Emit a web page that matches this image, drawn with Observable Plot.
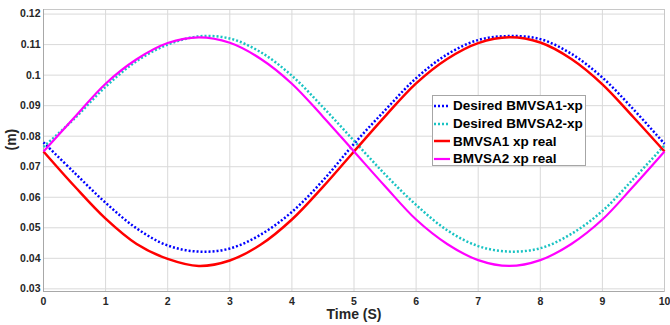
<!DOCTYPE html>
<html>
<head>
<meta charset="utf-8">
<script src="https://cdn.jsdelivr.net/npm/d3@7"></script>
<script src="https://cdn.jsdelivr.net/npm/@observablehq/plot@0.6"></script>
<style>
  html, body { margin: 0; padding: 0; background: #fff; }
  #wrap { position: relative; width: 670px; height: 325px; font-family: "Liberation Sans", Arial, sans-serif; }
  #legend { position: absolute; left: 432px; top: 95px; width: 154px; height: 71px; background: #fff; border: 1px solid #a6a6a6; box-sizing: border-box; padding-top: 1px; }
  .row { display: flex; align-items: center; height: 17.7px; font-weight: bold; font-size: 13.5px; color: #000; white-space: nowrap; }
  .row svg { margin-left: 1px; margin-right: 3px; flex: none; }
</style>
</head>
<body>
<div id="wrap"></div>
<script>
// time samples (s)
const time = [0,0.5,1,1.5,2,2.5,3,3.5,4,4.5,5,5.5,6,6.5,7,7.5,8,8.5,9,9.5,10];
// Desired BMVSA1-xp (m)
const desired1 = [0.0780,0.0680,0.0582,0.0498,0.0442,0.0422,0.0432,0.0478,0.0552,0.0655,0.0775,0.0885,0.0990,0.1068,0.1115,0.1128,0.1118,0.1070,0.0992,0.0888,0.0775];
// Desired BMVSA2-xp (m)
const desired2 = [0.0765,0.0858,0.0962,0.1046,0.1100,0.1127,0.1120,0.1075,0.0998,0.0895,0.0785,0.0675,0.0575,0.0492,0.0440,0.0422,0.0433,0.0480,0.0555,0.0660,0.0770];
// BMVSA1 xp real (m)
const real1 = [0.0750,0.0636,0.0530,0.0447,0.0398,0.0375,0.0393,0.0445,0.0527,0.0634,0.0750,0.0865,0.0973,0.1053,0.1105,0.1124,0.1107,0.1053,0.0970,0.0862,0.0750];
// BMVSA2 xp real (m)
const real2 = [0.0750,0.0862,0.0972,0.1052,0.1105,0.1124,0.1106,0.1053,0.0972,0.0864,0.0750,0.0636,0.0527,0.0447,0.0394,0.0375,0.0394,0.0447,0.0527,0.0636,0.0750];

const seriesNames = ["Desired BMVSA1-xp","Desired BMVSA2-xp","BMVSA1 xp real","BMVSA2 xp real"];
const seriesValues = [desired1, desired2, real1, real2];
const seriesColors = ["#0000ff","#19c3c3","#ff0000","#ff00ff"];
const seriesDash = ["2,2","2,2",null,null];
const seriesWidth = [2.5,2.5,2.5,2.2];

const xTicks = [0,1,2,3,4,5,6,7,8,9,10];
const yTicks = [0.03,0.04,0.05,0.06,0.07,0.08,0.09,0.1,0.11,0.12];

const font = "'Liberation Sans', Arial, sans-serif";

const rows = seriesNames.map((name, i) => time.map((t, j) => ({series: name, t, v: seriesValues[i][j]})));

const lineMarks = rows.map((data, i) => Plot.line(data, {
  x: "t", y: "v", stroke: seriesColors[i], strokeWidth: seriesWidth[i],
  strokeDasharray: seriesDash[i] ?? undefined, strokeLinecap: "butt", strokeLinejoin: "miter",
  curve: "catmull-rom"
}));

const chart = Plot.plot({
  width: 670, height: 325,
  marginLeft: 43, marginRight: 6, marginTop: 9, marginBottom: 34,
  style: {fontFamily: font, background: "#fff", overflow: "visible"},
  x: {domain: [0, 10]},
  y: {domain: [0.02913, 0.1215]},
  marks: [
    Plot.gridX(xTicks, {stroke: "#d9d9d9", strokeOpacity: 1, strokeWidth: 1}),
    Plot.gridY(yTicks, {stroke: "#d9d9d9", strokeOpacity: 1, strokeWidth: 1}),
    Plot.frame({stroke: "#c8c8c8"}),
    Plot.ruleY([0.02913], {stroke: "#a8a8a8"}),
    Plot.ruleX([0], {stroke: "#a8a8a8"}),
    ...lineMarks,
    Plot.axisX(xTicks, {tickSize: 0, tickPadding: 6, label: null, fontSize: 10.5, fontWeight: "bold", fill: "#262626", tickFormat: d3.format("~g")}),
    Plot.axisY(yTicks, {tickSize: 0, tickPadding: 3, label: null, fontSize: 10.5, fontWeight: "bold", fill: "#262626", tickFormat: d3.format("~g")}),
    Plot.text(["Time (S)"], {frameAnchor: "bottom", dy: 27, fontSize: 14, fontWeight: "bold", fill: "#262626"}),
    Plot.text(["(m)"], {frameAnchor: "left", dx: -32, rotate: -90, fontSize: 14, fontWeight: "bold", fill: "#262626"})
  ]
});

const wrap = document.getElementById("wrap");
wrap.appendChild(chart);

const legend = document.createElement("div");
legend.id = "legend";
seriesNames.forEach((name, i) => {
  const row = document.createElement("div");
  row.className = "row";
  const dash = seriesDash[i] ? `stroke-dasharray="${seriesDash[i]}"` : "";
  row.innerHTML = `<svg width="16" height="6"><line x1="0" y1="3" x2="16" y2="3" stroke="${seriesColors[i]}" stroke-width="${seriesWidth[i]}" ${dash}/></svg><span>${name}</span>`;
  legend.appendChild(row);
});
wrap.appendChild(legend);
</script>
</body>
</html>
